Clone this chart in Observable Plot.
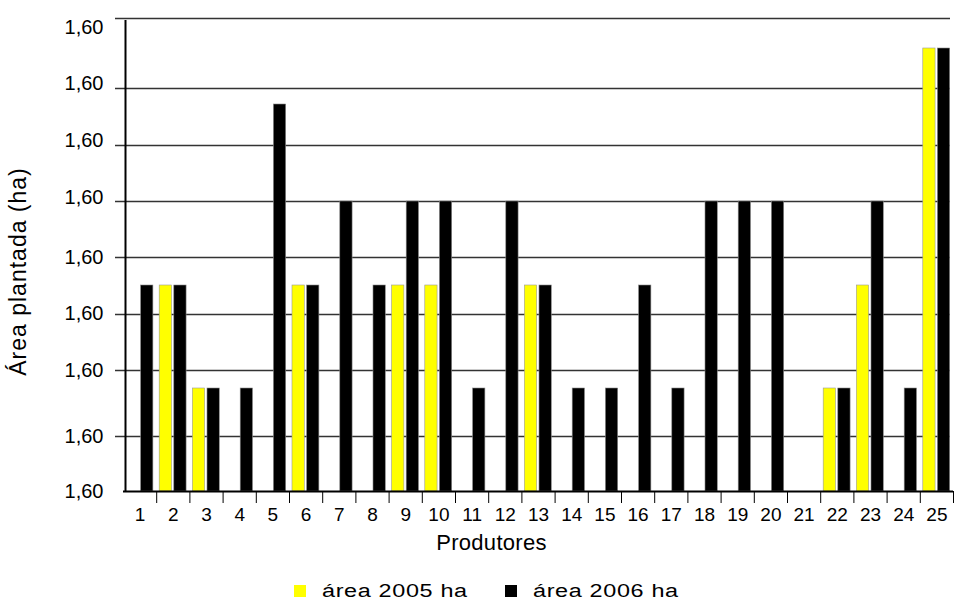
<!DOCTYPE html>
<html>
<head>
<meta charset="utf-8">
<script src="https://cdn.jsdelivr.net/npm/d3@7"></script>
<script src="https://cdn.jsdelivr.net/npm/@observablehq/plot@0.6"></script>
<style>
  body { margin: 0; background: #fff; font-family: "Liberation Sans", Arial, sans-serif; }
  #chart { position: relative; width: 954px; height: 601px; overflow: hidden; }
  .item { position: absolute; top: 582px; height: 18px; display: flex; align-items: center; font-size: 18px; line-height: 1; color: #000; }
  .sw { width: 12px; height: 12px; display: inline-block; }
  .lt { display: inline-block; margin-left: 16px; transform: scaleX(1.3); transform-origin: left center; letter-spacing: 0.5px; white-space: nowrap; }
</style>
</head>
<body>
<div id="chart"></div>
<script>
// ---- data ----
const producers = ["1","2","3","4","5","6","7","8","9","10","11","12","13","14","15","16","17","18","19","20","21","22","23","24","25"];
const area2005 = [0, 2.06, 1.03, 0, 0, 2.06, 0, 0, 2.06, 2.06, 0, 0, 2.06, 0, 0, 0, 0, 0, 0, 0, 0, 1.03, 2.06, 0, 4.43];
const area2006 = [2.06, 2.06, 1.03, 1.03, 3.87, 2.06, 2.90, 2.06, 2.90, 2.90, 1.03, 2.90, 2.06, 1.03, 1.03, 2.06, 1.03, 2.90, 2.90, 2.90, 0, 1.03, 2.90, 1.03, 4.43];
const seriesNames = ["área 2005 ha", "área 2006 ha"];
const seriesColors = ["#ffff00", "#000000"];
const yGridValues = [0, 0.55, 1.21, 1.77, 2.34, 2.90, 3.46, 4.03, 4.73];
const yLabelValues = [0, 0.545, 1.21, 1.78, 2.34, 2.94, 3.51, 4.08, 4.64];
const yTickLabels = ["1,60","1,60","1,60","1,60","1,60","1,60","1,60","1,60","1,60"];
const xTitle = "Produtores";
const yTitle = "Área plantada (ha)";

const rows2005 = producers.map((p, i) => ({i, p, v: area2005[i]})).filter(d => d.v > 0);
const rows2006 = producers.map((p, i) => ({i, p, v: area2006[i]})).filter(d => d.v > 0);
const boundaries = producers.map((p, i) => i + 1);

const chart = Plot.plot({
  width: 954,
  height: 570,
  marginLeft: 123,
  marginRight: 1,
  marginTop: 17,
  marginBottom: 79,
  x: {domain: [0, producers.length], axis: null},
  y: {domain: [0, 4.74], axis: null},
  style: {fontFamily: "'Liberation Sans', Arial, sans-serif", background: "#fff", color: "#000", overflow: "visible"},
  marks: [
    Plot.ruleY(yGridValues.slice(1), {stroke: "#333", strokeWidth: 1.4, insetLeft: -8, insetRight: 3}),
    Plot.rectY(rows2005, {x1: d => d.i + 0.09, x2: d => d.i + 0.46, y: "v", fill: seriesColors[0], stroke: "#999", strokeWidth: 0.6}),
    Plot.rectY(rows2006, {x1: d => d.i + 0.53, x2: d => d.i + 0.90, y: "v", fill: seriesColors[1], stroke: "#888", strokeWidth: 0.6}),
    Plot.ruleY([0], {stroke: "#000", strokeWidth: 2}),
    Plot.ruleX([0], {y1: 0, y2: 4.71, stroke: "#000", strokeWidth: 2, dx: 2}),
    Plot.ruleX(boundaries, {stroke: "#000", strokeWidth: 1, insetTop: 474, insetBottom: -12}),
    Plot.text(producers, {x: (d, i) => i + 0.5, frameAnchor: "bottom", dy: 29, fontSize: 19, fill: "#000", text: d => d}),
    Plot.text(yLabelValues, {y: d => d, frameAnchor: "left", dx: -20, textAnchor: "end", fontSize: 20, fill: "#000", text: (d, i) => yTickLabels[i]}),
    Plot.text([xTitle], {frameAnchor: "bottom", dx: -47, dy: 58, textAnchor: "middle", fontSize: 22, fill: "#000", text: d => d}),
    Plot.text([yTitle], {frameAnchor: "left", dx: -105, dy: 17, rotate: -90, textAnchor: "middle", fontSize: 23, fill: "#000", text: d => d})
  ]
});

d3.select(chart).selectAll("text").filter(function() { return this.textContent === yTitle; }).attr("letter-spacing", "1px");
d3.select(chart).selectAll("text").filter(function() { return this.textContent === xTitle; }).attr("letter-spacing", "0.3px");

const root = document.getElementById("chart");
root.appendChild(chart);

const legendLefts = [294, 505];
seriesNames.forEach((name, k) => {
  const item = document.createElement("div");
  item.className = "item";
  item.style.left = legendLefts[k] + "px";
  const sw = document.createElement("span");
  sw.className = "sw";
  sw.style.background = seriesColors[k];
  const t = document.createElement("span");
  t.className = "lt";
  t.textContent = name;
  item.appendChild(sw);
  item.appendChild(t);
  root.appendChild(item);
});
</script>
</body>
</html>
